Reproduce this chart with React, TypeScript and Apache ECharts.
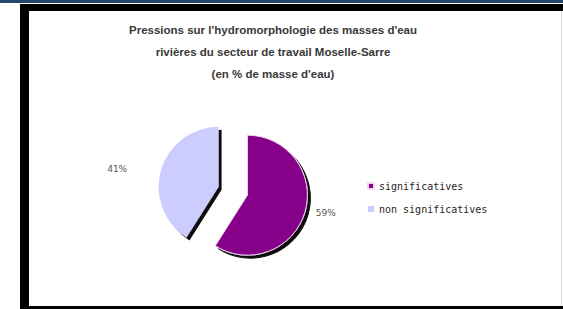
import React, { useEffect, useRef } from "react";
import * as echarts from "echarts";

const titleLines = [
  "Pressions sur l'hydromorphologie des masses d'eau",
  "rivières du secteur de travail Moselle-Sarre",
  "(en % de masse d'eau)",
];
const categories = ["significatives", "non significatives"];
const values = [59, 41];
const colors = ["#86008a", "#ccccff"];

export default function App() {
  const ref = useRef<HTMLDivElement>(null);
  useEffect(() => {
    document.body.style.margin = "0";
    const chart = echarts.init(ref.current!, null, { renderer: "svg" });
    chart.setOption({
      animation: false,
      backgroundColor: "#ffffff",
      graphic: [
        { type: "rect", shape: { x: 0, y: 0, width: 563, height: 3 }, style: { fill: "#27476a" }, z: -10 },
        { type: "rect", shape: { x: 20, y: 4, width: 543, height: 305 }, style: { fill: "#000000" }, z: -10 },
        { type: "rect", shape: { x: 29, y: 11, width: 534, height: 295 }, style: { fill: "#ffffff" }, z: -9 },
        { type: "rect", shape: { x: 561, y: 11, width: 1, height: 295 }, style: { fill: "#d8d8d8" }, z: -8 },
        {
          type: "text",
          x: 273,
          y: 19,
          style: {
            text: titleLines.join("\n"),
            align: "center",
            verticalAlign: "top",
            lineHeight: 22,
            font: "bold 11.5px 'Liberation Sans', Arial, sans-serif",
            fill: "#383838",
          },
          z: 10,
        },
      ],
      legend: {
        orient: "vertical",
        left: 362,
        top: 176,
        itemWidth: 6,
        itemHeight: 6,
        itemGap: 13,
        icon: "rect",
        data: categories,
        textStyle: { fontFamily: "DejaVu Sans Mono", fontSize: 10, color: "#262626" },
      },
      series: [
        {
          type: "pie",
          center: [233, 191],
          radius: [0, 60],
          startAngle: 90,
          clockwise: true,
          selectedMode: "multiple",
          selectedOffset: 15,
          avoidLabelOverlap: false,
          label: {
            show: true,
            position: "outside",
            formatter: "{d}%",
            fontFamily: "DejaVu Sans",
            fontSize: 9,
            color: "#555",
          },
          labelLine: { show: false, length: 5, length2: 5 },
          itemStyle: {
            shadowColor: "rgba(0,0,0,0.95)",
            shadowOffsetX: 3,
            shadowOffsetY: 3,
            shadowBlur: 0,
          },
          emphasis: { disabled: true },
          data: categories.map((c, i) => ({
            name: c,
            value: values[i],
            selected: true,
            itemStyle: {
              color: colors[i],
              borderColor: i === 0 ? "#f3d6f3" : "#ccccff",
              borderWidth: i === 0 ? 1 : 0,
            },
            labelLine: i === 0 ? { show: false, length: 5, length2: 1 } : { show: false, length: 5, length2: 24 },
          })),
        },
      ],
    });
    return () => chart.dispose();
  }, []);
  return <div ref={ref} style={{ width: 563, height: 309, position: "absolute", left: 0, top: 0 }} />;
}
